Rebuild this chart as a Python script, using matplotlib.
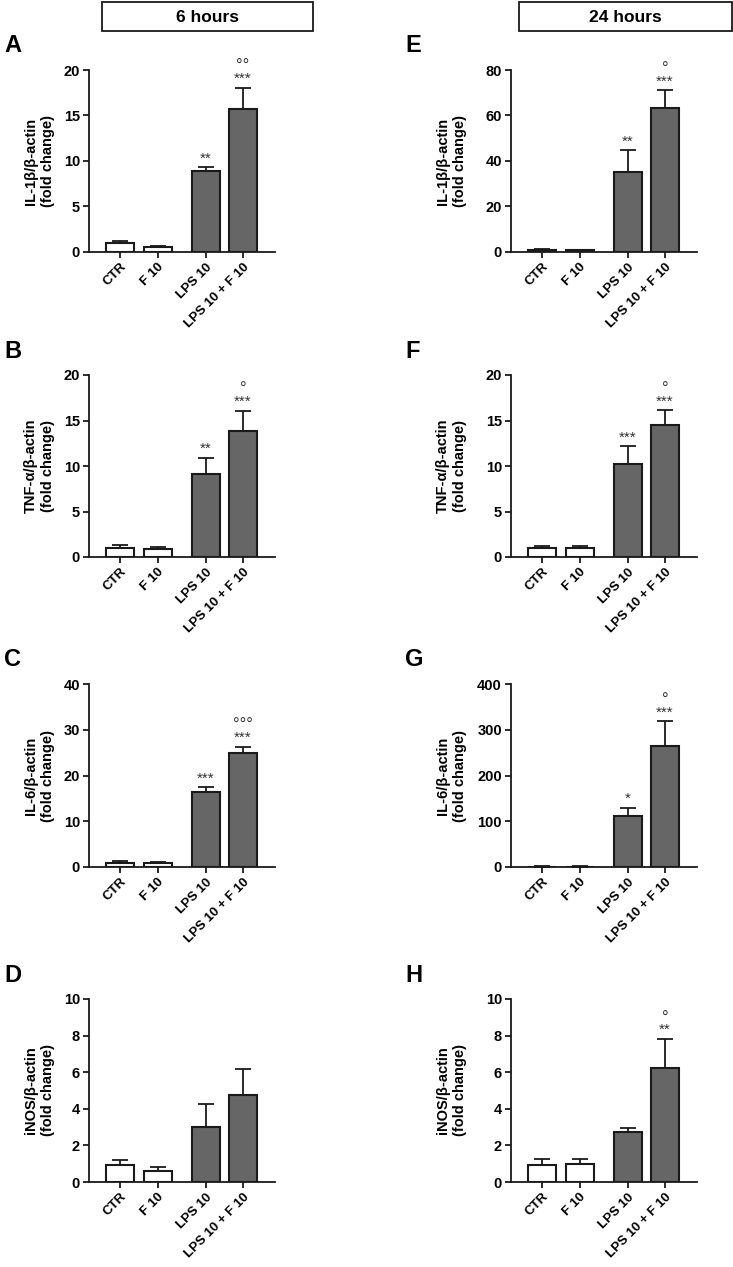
import matplotlib
matplotlib.use("Agg")
import matplotlib.pyplot as plt
from matplotlib.patches import Rectangle

plt.rcParams['font.family'] = ['Liberation Sans', 'DejaVu Sans']

# ---------------- data ----------------
groups = ["CTR", "F 10", "LPS 10", "LPS 10 + F 10"]

panel_letters = ["A", "B", "C", "D", "E", "F", "G", "H"]
ylabels = ["IL-1β/β-actin\n(fold change)", "TNF-α/β-actin\n(fold change)",
           "IL-6/β-actin\n(fold change)", "iNOS/β-actin\n(fold change)"]
ylabels = ylabels + ylabels

# 6 hours
A_mean = [0.95, 0.50, 8.9, 15.75]
A_err = [0.30, 0.15, 0.40, 2.30]
B_mean = [0.95, 0.88, 9.15, 13.85]
B_err = [0.32, 0.17, 1.75, 2.20]
C_mean = [0.90, 0.90, 16.5, 24.9]
C_err = [0.45, 0.30, 0.90, 1.40]
D_mean = [0.93, 0.58, 3.03, 4.74]
D_err = [0.26, 0.22, 1.22, 1.43]
# 24 hours
E_mean = [1.0, 0.7, 35.0, 63.3]
E_err = [0.35, 0.30, 9.75, 7.7]
F_mean = [0.95, 0.95, 10.18, 14.56]
F_err = [0.25, 0.25, 1.97, 1.54]
G_mean = [1.0, 1.0, 111.8, 263.4]
G_err = [0.5, 0.5, 17.2, 55.2]
H_mean = [0.95, 1.0, 2.71, 6.25]
H_err = [0.29, 0.26, 0.24, 1.56]

means = [A_mean, B_mean, C_mean, D_mean, E_mean, F_mean, G_mean, H_mean]
errs = [A_err, B_err, C_err, D_err, E_err, F_err, G_err, H_err]

ymax = [20, 20, 40, 10, 80, 20, 400, 10]
ystep = [5, 5, 10, 2, 20, 5, 100, 2]

stars = [
    ["", "", "**", "***"],
    ["", "", "**", "***"],
    ["", "", "***", "***"],
    ["", "", "", ""],
    ["", "", "**", "***"],
    ["", "", "***", "***"],
    ["", "", "*", "***"],
    ["", "", "", "**"],
]
circles = [
    ["", "", "", "°°"],
    ["", "", "", "°"],
    ["", "", "", "°°°"],
    ["", "", "", ""],
    ["", "", "", "°"],
    ["", "", "", "°"],
    ["", "", "", "°"],
    ["", "", "", "°"],
]
headers = ["6 hours", "24 hours"]

# ---------------- layout ----------------
W, H = 733, 1267
fig = plt.figure(figsize=(W / 100, H / 100), dpi=100)

xpos = [0, 1, 2.26, 3.24]
bar_colors = ["white", "white", "#666666", "#666666"]
col_x0 = [89, 511]
col_x1 = [275, 697]
row_top = [70, 375, 684, 999]
row_zero = [252, 557, 867, 1182]
label_dx = [-34, -44]
letter_x = [4, 405]

for i in range(8):
    col = i // 4
    row = i % 4
    x0, x1 = col_x0[col], col_x1[col]
    yt, yz = row_top[row], row_zero[row]
    ax = fig.add_axes([x0 / W, 1 - yz / H, (x1 - x0) / W, (yz - yt) / H])
    ax.bar(xpos, means[i], width=0.75, color=bar_colors, edgecolor="#1a1a1a",
           linewidth=1.5, zorder=3)
    ax.errorbar(xpos, means[i], yerr=[[0] * 4, errs[i]], fmt="none",
                ecolor="#1a1a1a", elinewidth=1.3, capsize=5.5, capthick=1.3,
                zorder=2)
    ax.set_xlim(-0.81, 4.08)
    ax.set_ylim(0, ymax[i])
    ax.set_yticks([ystep[i] * k for k in range(int(ymax[i] / ystep[i]) + 1)])
    ax.set_xticks(xpos)
    ax.set_xticklabels(groups, rotation=45, ha="right", rotation_mode="anchor",
                       fontsize=9.5, fontweight="bold")
    for lab in ax.get_yticklabels():
        lab.set_fontsize(10.5)
        lab.set_fontweight("bold")
    ax.spines["top"].set_visible(False)
    ax.spines["right"].set_visible(False)
    for s in ("left", "bottom"):
        ax.spines[s].set_linewidth(1.3)
        ax.spines[s].set_color("#1a1a1a")
    ax.tick_params(axis="both", width=1.3, length=4.5, color="#1a1a1a", pad=2)
    ax.set_ylabel(ylabels[i], fontsize=10.5, fontweight="bold", linespacing=1.3)
    ax.yaxis.set_label_coords(label_dx[col] / (x1 - x0), 0.5)
    ax.set_facecolor("none")

    for j in range(4):
        top = means[i][j] + errs[i][j]
        if stars[i][j]:
            ax.annotate(stars[i][j], (xpos[j], top), xytext=(0, 3.5),
                        textcoords="offset points", ha="center", va="baseline",
                        fontsize=11, color="#333333")
        if circles[i][j]:
            ax.annotate(circles[i][j], (xpos[j], top), xytext=(0, 12),
                        textcoords="offset points", ha="center", va="baseline",
                        fontsize=12, color="#333333")

    fig.text(letter_x[col] / W, 1 - 46 / H - (row_top[row] - 70) / H,
             panel_letters[i], fontsize=17, fontweight="bold", va="center",
             ha="left")

# header boxes
box_x = [(102, 313), (519, 732)]
for col in range(2):
    bx0, bx1 = box_x[col]
    rect = Rectangle((bx0 / W, 1 - 31 / H), (bx1 - bx0) / W, 29 / H,
                     transform=fig.transFigure, fill=False, linewidth=1.3,
                     edgecolor="#1a1a1a")
    fig.add_artist(rect)
    fig.text((bx0 + bx1) / 2 / W, 1 - 17 / H, headers[col], ha="center",
             va="center", fontsize=12.5, fontweight="bold")

fig.savefig("out.png", dpi=100, facecolor="white")
